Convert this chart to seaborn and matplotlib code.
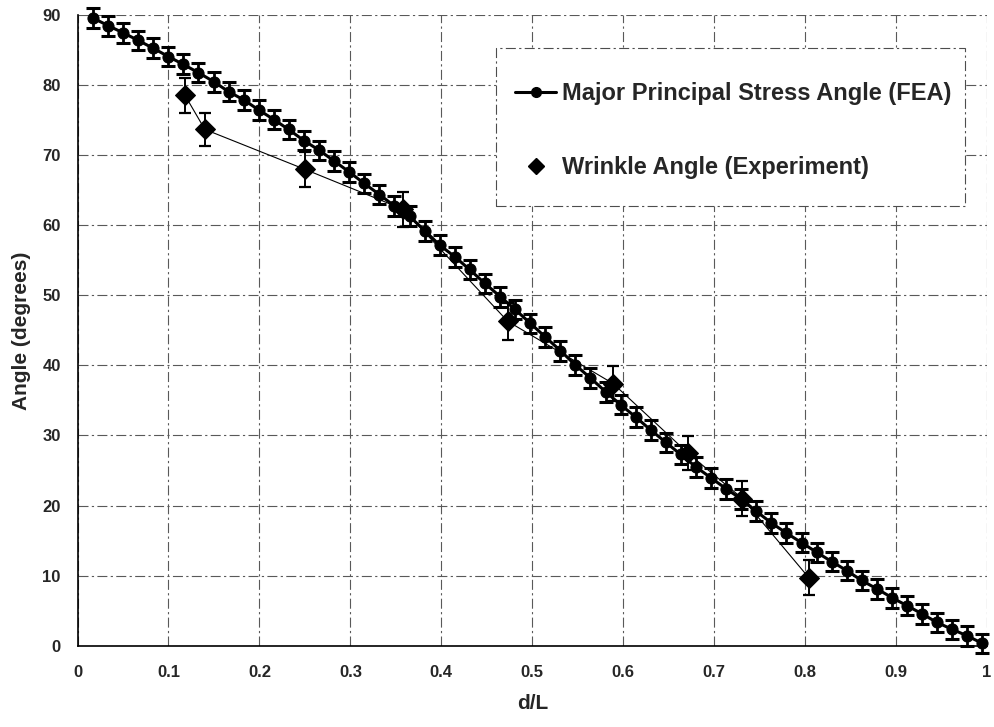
import numpy as np
import pandas as pd
import matplotlib
matplotlib.use("Agg")
import matplotlib.pyplot as plt
from matplotlib.patches import Rectangle
import seaborn as sns

# FEA: major principal stress angle along d/L
fea_x = [0.017, 0.034, 0.050, 0.067, 0.083, 0.100, 0.116, 0.133, 0.150, 0.166,
         0.183, 0.199, 0.216, 0.232, 0.249, 0.266, 0.282, 0.299, 0.315, 0.332,
         0.348, 0.365, 0.382, 0.398, 0.415, 0.431, 0.448, 0.465, 0.481, 0.498,
         0.514, 0.531, 0.547, 0.564, 0.581, 0.597, 0.614, 0.630, 0.647, 0.663,
         0.680, 0.697, 0.713, 0.730, 0.746, 0.763, 0.779, 0.796, 0.813, 0.829,
         0.846, 0.862, 0.879, 0.896, 0.912, 0.929, 0.945, 0.962, 0.978, 0.995]
fea_angle = [89.6, 88.5, 87.5, 86.4, 85.3, 84.1, 83.0, 81.8, 80.5, 79.1,
             77.9, 76.5, 75.1, 73.7, 72.1, 70.7, 69.2, 67.6, 66.0, 64.4,
             62.8, 61.3, 59.2, 57.2, 55.5, 53.7, 51.7, 49.8, 48.0, 46.0,
             44.1, 42.1, 40.1, 38.2, 36.2, 34.4, 32.6, 30.8, 29.0, 27.3,
             25.5, 23.9, 22.4, 20.9, 19.2, 17.5, 16.1, 14.7, 13.3, 12.0,
             10.7, 9.3, 8.1, 6.8, 5.7, 4.5, 3.3, 2.3, 1.4, 0.3]
fea_err = 1.4

# experiment: wrinkle angle
exp_x = [0.118, 0.140, 0.250, 0.358, 0.473, 0.589, 0.671, 0.731, 0.804]
exp_angle = [78.6, 73.7, 68.0, 62.3, 46.3, 37.4, 27.5, 21.0, 9.7]
exp_err = [2.5, 2.4, 2.5, 2.5, 2.6, 2.5, 2.4, 2.5, 2.5]

x_ticks = [0, 0.1, 0.2, 0.3, 0.4, 0.5, 0.6, 0.7, 0.8, 0.9, 1]
x_labels = ["0", "0.1", "0.2", "0.3", "0.4", "0.5", "0.6", "0.7", "0.8", "0.9", "1"]
y_ticks = [0, 10, 20, 30, 40, 50, 60, 70, 80, 90]

fea = pd.DataFrame({"d/L": fea_x, "angle": fea_angle})
exp = pd.DataFrame({"d/L": exp_x, "angle": exp_angle, "err": exp_err})

sns.set_theme(style="white")
plt.rcParams["font.family"] = ["Liberation Sans", "DejaVu Sans"]

fig = plt.figure(figsize=(9.94, 7.27), dpi=100)
ax = fig.add_axes([0.078, 0.112, 0.915, 0.867])

# error bars first, then lines / markers on top
ax.errorbar(fea["d/L"], fea["angle"], yerr=fea_err, fmt="none", ecolor="black",
            elinewidth=2, capsize=5, capthick=2.2, clip_on=False, zorder=3)
ax.errorbar(exp["d/L"], exp["angle"], yerr=exp["err"], fmt="none", ecolor="black",
            elinewidth=1.4, capsize=4.5, capthick=1.6, clip_on=False, zorder=3)

sns.lineplot(data=exp, x="d/L", y="angle", ax=ax, color="black", linewidth=0.8,
             marker="D", markersize=10, markeredgecolor="black",
             legend=False, zorder=4, clip_on=False)
sns.lineplot(data=fea, x="d/L", y="angle", ax=ax, color="black", linewidth=2.2,
             marker="o", markersize=8, markeredgecolor="black",
             legend=False, zorder=5, clip_on=False)

ax.set_xlim(0, 1)
ax.set_ylim(0, 90)
ax.set_xticks(x_ticks)
ax.set_xticklabels(x_labels)
ax.set_yticks(y_ticks)
ax.tick_params(axis="both", length=0, labelsize=12)
ax.tick_params(axis="x", pad=14)
ax.tick_params(axis="y", pad=12)
for lab in ax.get_xticklabels() + ax.get_yticklabels():
    lab.set_fontweight("bold")

ax.grid(True, color="0.35", linestyle=(0, (9, 3, 2, 3)), linewidth=0.8)
for side in ["top", "right"]:
    ax.spines[side].set_visible(False)
for side in ["left", "bottom"]:
    ax.spines[side].set_color("black")
    ax.spines[side].set_linewidth(1.2)

ax.set_xlabel("d/L", fontsize=15, fontweight="bold", labelpad=10)
ax.set_ylabel("Angle (degrees)", fontsize=15, fontweight="bold", labelpad=8)

# legend box drawn as its own patch, entries placed inside it
box = Rectangle((0.46, 0.698), 0.516, 0.25, transform=ax.transAxes,
                facecolor="white", edgecolor="0.3", linewidth=0.8,
                linestyle=(0, (9, 3, 2, 3)), zorder=6, clip_on=False)
ax.add_patch(box)

h_fea = plt.Line2D([], [], color="black", linewidth=2.2, marker="o", markersize=7)
h_exp = plt.Line2D([], [], color="black", linestyle="none", marker="D", markersize=8)
leg = ax.legend([h_fea, h_exp], ["Major Principal Stress Angle (FEA)", "Wrinkle Angle (Experiment)"],
                loc="center left", bbox_to_anchor=(0.468, 0.817),
                prop={"weight": "bold", "size": 17}, labelspacing=2.15,
                borderpad=0, handlelength=1.75, handletextpad=0.25,
                frameon=False)
leg.set_zorder(7)

fig.savefig("out.png", dpi=100)
